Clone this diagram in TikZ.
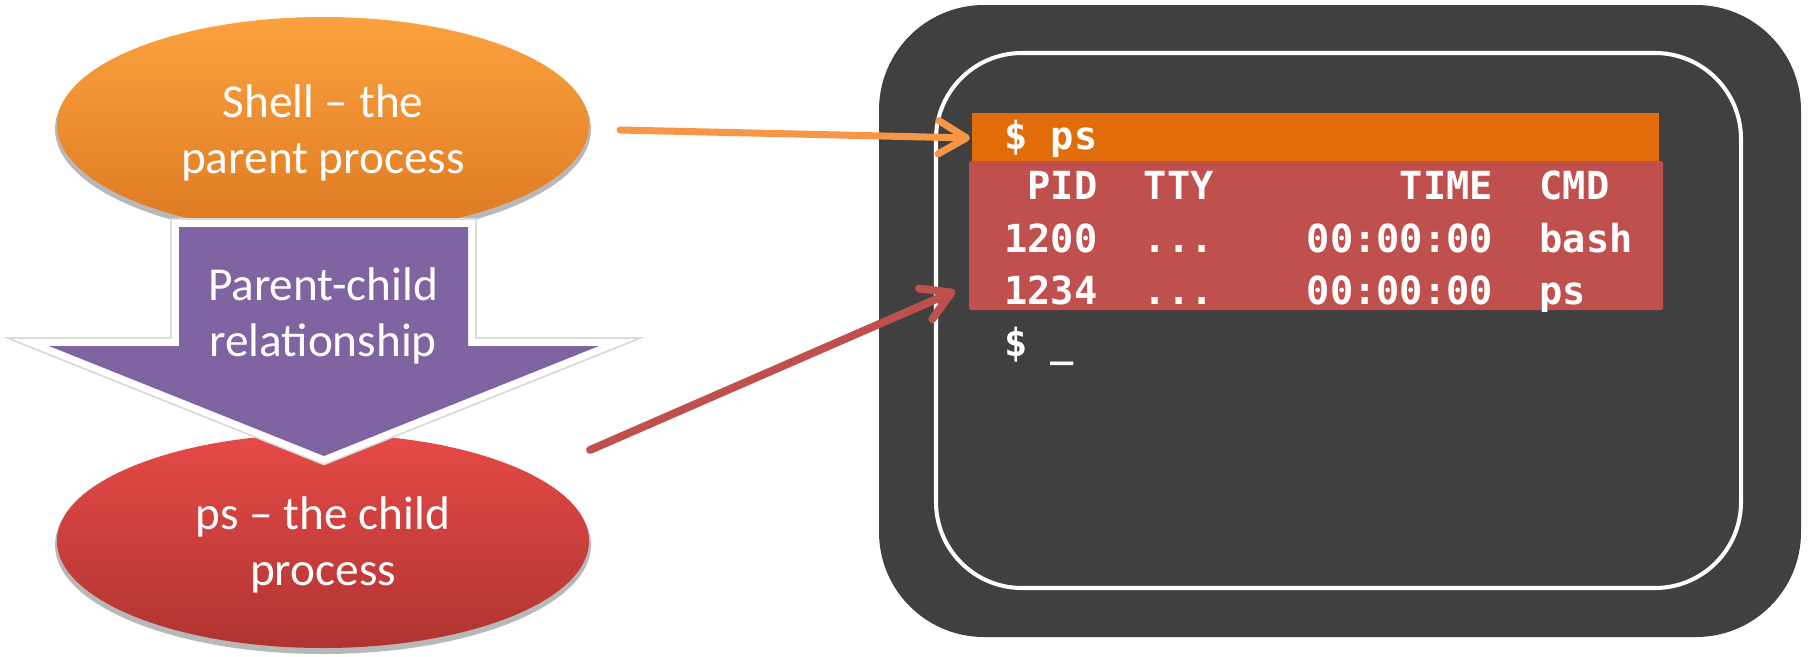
\documentclass[tikz,border=0pt]{standalone}
\usepackage{fontspec}
\setmainfont{Carlito}
\setmonofont{DejaVu Sans Mono}
\usetikzlibrary{arrows.meta}
\definecolor{termgray}{HTML}{404040}
\definecolor{cmdorange}{HTML}{E36C0A}
\definecolor{outred}{HTML}{C0504D}
\definecolor{lineorange}{HTML}{F79646}
\definecolor{relpurple}{HTML}{8064A2}
\definecolor{shelltop}{HTML}{FBA23E}
\definecolor{shellbottom}{HTML}{DE7922}
\definecolor{childtop}{HTML}{E54A47}
\definecolor{childbottom}{HTML}{B03431}
\begin{document}
\begin{tikzpicture}[x=0.02cm,y=-0.02cm,
    bubbletext/.style={text=white,align=center,inner sep=0pt,font=\fontsize{26.9}{31.9}\selectfont},
    termline/.style={anchor=base west,inner sep=0pt,text=white,font=\fontsize{22}{26}\selectfont\ttfamily\bfseries},
    pointer/.style={line cap=round,-{Straight Barb[length=16pt,width=19pt,round]}}]
                \useasboundingbox (0,0) rectangle (1808,656);
                \fill[white] (0,0) rectangle (1808,656);
                \fill[black!28] (323,129) ellipse [x radius=268,y radius=110];
                \shade[top color=shelltop,bottom color=shellbottom] (323,125) ellipse [x radius=266,y radius=108];
                \fill[black!28] (323,545) ellipse [x radius=268,y radius=109];
                \shade[top color=childtop,bottom color=childbottom] (323,541) ellipse [x radius=266,y radius=107];
                \fill[relpurple,line join=miter,preaction={draw=black!15,line width=10pt},preaction={draw=white,line width=8pt}]
                    (179,227) -- (468,227) -- (468,346) -- (599,346) -- (324,456) -- (49,346) -- (179,346) -- cycle;
                \node[bubbletext] (shell) at (323,133) {Shell – the\\parent process};
                \node[bubbletext] (relation) at (323,316) {Parent-child\\relationship};
                \node[bubbletext] (child) at (323,545) {ps – the child\\process};
                \fill[termgray,rounded corners=2.1cm] (879,5) rectangle (1801,637);
                \draw[white,line width=2.3pt,rounded corners=1.72cm] (936,53) rectangle (1741,588);
                \fill[cmdorange] (972,113) rectangle (1659,161);
                \fill[outred,rounded corners=1pt] (969,161) rectangle (1663,310);
                \node[termline] (prompt) at (1004,149) {\$\ ps};
                \node[termline] (header) at (1004,199) {\ PID\ \ TTY\ \ \ \ \ \ \ \ TIME\ \ CMD};
                \node[termline] (bashrow) at (1004,252) {1200\ \ ...\ \ \ \ 00:00:00\ \ bash};
                \node[termline] (psrow) at (1004,304) {1234\ \ ...\ \ \ \ 00:00:00\ \ ps};
                \node[termline] (cursor) at (1004,356) {\$\ \_};
                \coordinate (shellout) at (620,130);
                \coordinate (cmdtip) at (970,138);
                \coordinate (childout) at (590,450);
                \coordinate (outtip) at (955,291);
                \draw[pointer,lineorange,line width=4pt] (shellout) -- (cmdtip);
                \draw[pointer,outred,line width=4.5pt] (childout) -- (outtip);
            \end{tikzpicture}
\end{document}
